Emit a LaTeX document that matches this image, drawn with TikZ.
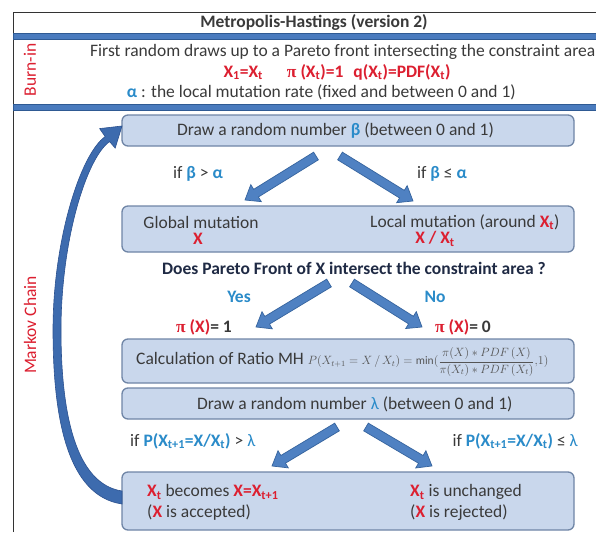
\documentclass[tikz,border=0pt]{standalone}
\usepackage{fontspec}
\setmainfont{Carlito}
\newfontfamily\pisym{Liberation Serif}
\usetikzlibrary{calc}
\definecolor{boxfill}{HTML}{C9D7EC}
\definecolor{boxborder}{HTML}{6F85A6}
\definecolor{barblue}{HTML}{4A7BBE}
\definecolor{bardark}{HTML}{2F5A93}
\definecolor{arrowfill}{HTML}{4F81C2}
\definecolor{arrowdraw}{HTML}{36649E}
\definecolor{curvefill}{HTML}{3D6BAE}
\definecolor{curvedraw}{HTML}{2C5290}
\definecolor{mred}{HTML}{DC1F30}
\definecolor{mblue}{HTML}{2A8BC9}
\definecolor{dtext}{HTML}{3A3A3A}
\definecolor{navy}{HTML}{1F2A44}
\definecolor{formgray}{HTML}{555555}
\newcommand{\Xt}{X\textsubscript{t}}
\newcommand{\pii}{{\pisym π}}
\newcommand{\blockarrow}[2]{%
  \path[barrow] let \p1=(#1), \p2=(#2), \n1={atan2(\y2-\y1,\x2-\x1)}, \n2={veclen(\x2-\x1,\y2-\y1)} in
    [shift={(\p1)}, rotate=\n1] (0pt,-4.5pt) -- ({\n2-13pt},-4.5pt) -- ({\n2-13pt},-10pt) -- ({\n2},0pt)
    -- ({\n2-13pt},10pt) -- ({\n2-13pt},4.5pt) -- (0pt,4.5pt) -- cycle;}
\begin{document}
\begin{tikzpicture}[x=1pt,y=-1pt,
  t/.style={font=\fontsize{17.5}{20}\selectfont, text=dtext, inner sep=0pt},
  tb/.style={font=\fontsize{17.5}{20}\selectfont\bfseries, text=dtext, inner sep=0pt},
  box/.style={draw=boxborder, fill=boxfill, rounded corners=6pt, line width=1.3pt, minimum width=452pt, inner sep=0pt},
  barrow/.style={fill=arrowfill, draw=arrowdraw, line width=0.7pt, line join=miter},
  bar/.style={fill=barblue, draw=bardark, line width=0.6pt},
  framel/.style={draw=black!80, line width=0.9pt}]
\useasboundingbox (0,0) rectangle (596,532);
\fill[white] (0,0) rectangle (596,532);
% frame and bars
\draw[framel] (13,532) -- (13,12) -- (600,12);
\path[bar] (13,33) rectangle (600,39);
\path[bar] (13,104) rectangle (600,110);
% title and burn-in
\node[tb] (title) at (314,22) {Metropolis-Hastings (version 2)};
\node[t, text=mred, rotate=90] (burn) at (30,70) {Burn-in};
\node[t, anchor=west] (l1) at (90,52) {First random draws up to a Pareto front intersecting the constraint area};
\node[tb, text=mred] (l2) at (337,72) {X\textsubscript{1}=\Xt\hspace{24pt}\pii{} (\Xt)=1\hspace{10pt}q(\Xt)=PDF(\Xt)};
\node[t, anchor=east] (l3) at (516,92) {\textcolor{mblue}{\textbf{α}} : the local mutation rate (fixed and between 0 and 1)};
% markov chain
\node[t, text=mred, rotate=90] (markov) at (30,325) {Markov Chain};
% boxes
\node[box, minimum height=31pt] (b1) at (348,130.5) {};
\node[box, minimum height=46pt] (b2) at (348,229) {};
\node[box, minimum height=44pt] (b3) at (348,361) {};
\node[box, minimum height=31pt] (b4) at (348,403.5) {};
\node[box, minimum height=58pt] (b5) at (348,501) {};
% box texts
\node[t, anchor=west] (b1t) at (177,131) {Draw a random number \textcolor{mblue}{\textbf{β}} (between 0 and 1)};
\node[t] (gm) at (201,222) {Global mutation};
\node[tb, text=mred] (gx) at (198,239) {X};
\node[t, anchor=west] (lm) at (370,222) {Local mutation (around \textcolor{mred}{\textbf{\Xt}})};
\node[tb, text=mred] (lx) at (435,239) {X / \Xt};
\node[t] (c1) at (198,174) {if \textcolor{mblue}{\textbf{β}} > \textcolor{mblue}{\textbf{α}}};
\node[t] (c2) at (442,174) {if \textcolor{mblue}{\textbf{β}} ≤ \textcolor{mblue}{\textbf{α}}};
\node[tb, text=navy] (q) at (354,268) {Does Pareto Front of X intersect the constraint area ?};
\node[tb, text=mblue] (yes) at (239,297) {Yes};
\node[tb, text=mblue] (no) at (435,297) {No};
\node[tb] (p1) at (204,327) {\textcolor{mred}{\pii{} (X)}= 1};
\node[tb] (p0) at (463,327) {\textcolor{mred}{\pii{} (X)}= 0};
\node[t, anchor=west] (b3t) at (136,362) {Calculation of Ratio MH \textcolor{formgray}{\fontsize{11.5}{13}\selectfont$P(X_{t+1}=X\,/\,X_t)=\min(\displaystyle\frac{\pi(X)*PDF\,(X)}{\pi(X_t)*PDF\,(X_t)},\!1)$}};
\node[t, anchor=west] (b4t) at (197,404) {Draw a random number \textcolor{mblue}{λ} (between 0 and 1)};
\node[t, anchor=west] (c3) at (130,441) {if \textcolor{mblue}{\textbf{P(X\textsubscript{t+1}=X/\Xt)}} > \textcolor{mblue}{λ}};
\node[t, anchor=east] (c4) at (578,441) {if \textcolor{mblue}{\textbf{P(X\textsubscript{t+1}=X/\Xt)}} ≤ \textcolor{mblue}{λ}};
\node[t, anchor=west] (a1) at (147,492) {\textcolor{mred}{\textbf{\Xt}} becomes \textcolor{mred}{\textbf{X=X\textsubscript{t+1}}}};
\node[t, anchor=west] (a2) at (147,513) {(\textcolor{mred}{\textbf{X}} is accepted)};
\node[t, anchor=west] (r1) at (410,492) {\textcolor{mred}{\textbf{\Xt}} is unchanged};
\node[t, anchor=west] (r2) at (410,513) {(\textcolor{mred}{\textbf{X}} is rejected)};
% block arrows
\coordinate (a1s) at (316,156); \coordinate (a1e) at (245,200);
\coordinate (a2s) at (340,156); \coordinate (a2e) at (413,201);
\coordinate (a3s) at (329,283); \coordinate (a3e) at (256,327);
\coordinate (a4s) at (352,283); \coordinate (a4e) at (422,327);
\coordinate (a5s) at (337,427); \coordinate (a5e) at (272,466);
\coordinate (a6s) at (366,427); \coordinate (a6e) at (432,466);
\blockarrow{a1s}{a1e}
\blockarrow{a2s}{a2e}
\blockarrow{a3s}{a3e}
\blockarrow{a4s}{a4e}
\blockarrow{a5s}{a5e}
\blockarrow{a6s}{a6e}
% curved return arrow
\path[fill=curvefill, draw=curvedraw, line width=0.6pt, line join=miter]
  (122,504) .. controls (68,496) and (53,420) .. (53,330)
  .. controls (53,240) and (80.6,153.7) .. (105.2,136.6)
  -- (99.6,128.6) -- (122,126) -- (115.2,148.1) -- (109.6,141.6)
  .. controls (86.6,157.6) and (61,240) .. (61,330)
  .. controls (61,415) and (76,484) .. (122,491) -- cycle;
\end{tikzpicture}
\end{document}
